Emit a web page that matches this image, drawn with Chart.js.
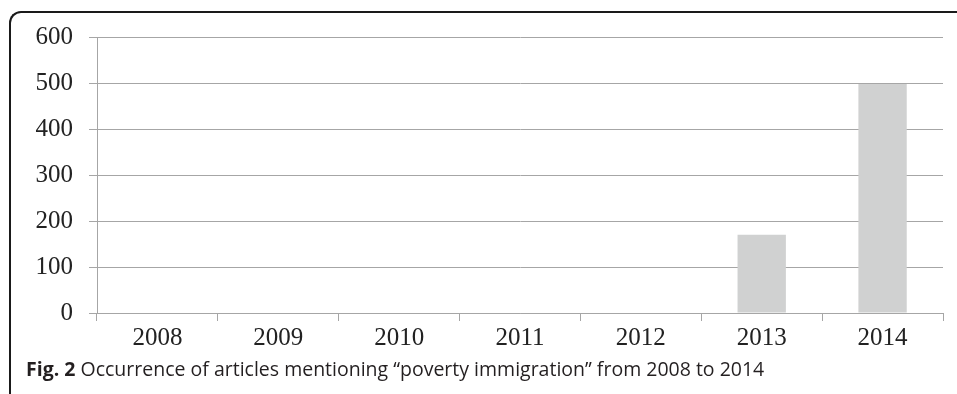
<!DOCTYPE html>
<html>
<head>
<meta charset="utf-8">
<script src="https://cdn.jsdelivr.net/npm/chart.js@4.4.1/dist/chart.umd.min.js"></script>
<style>
  body { margin: 0; background: #fff; }
  #wrap { position: relative; width: 957px; height: 394px; overflow: hidden; }
  #frame {
    position: absolute; left: 9px; top: 11px; width: 1000px; height: 500px;
    border-top: 2px solid #1a1a1a; border-left: 2px solid #1a1a1a;
    border-top-left-radius: 12px;
  }
  #myChart { position: absolute; left: 0; top: 0; }
  #caption {
    position: absolute; left: 26px; top: 355px;
    font-family: "Open Sans", sans-serif; font-size: 19.5px; color: #231f20;
    white-space: nowrap;
  }
  #caption b { font-weight: 700; }
</style>
</head>
<body>
<div id="wrap">
  <div id="frame"></div>
  <canvas id="myChart" width="957" height="394"></canvas>
  <div id="caption"><b>Fig. 2</b> Occurrence of articles mentioning “poverty immigration” from 2008 to 2014</div>
</div>
<script>
// data
const years = ['2008', '2009', '2010', '2011', '2012', '2013', '2014'];
const articles = [0, 0, 0, 0, 0, 170, 498];

const ctx = document.getElementById('myChart');

new Chart(ctx, {
    type: 'bar',
    data: {
        labels: years,
        datasets: [{
            label: 'articles',
            data: articles,
            backgroundColor: '#d0d1d1',
            borderWidth: 0,
            categoryPercentage: 1,
            barPercentage: 0.4
        }]
    },
    options: {
        responsive: false,
        animation: false,
        layout: {
            padding: { left: 0, right: 14, top: 37, bottom: 0 }
        },
        plugins: {
            legend: { display: false },
            tooltip: { enabled: false }
        },
        scales: {
            x: {
                grid: {
                    drawOnChartArea: false,
                    drawTicks: true,
                    tickLength: 8,
                    color: '#a6a6a6'
                },
                border: { color: '#a6a6a6', width: 1 },
                ticks: {
                    color: '#222',
                    padding: 2,
                    font: { family: '"Liberation Serif", serif', size: 25 }
                },
                afterFit: function (scale) { scale.height = 81; }
            },
            y: {
                min: 0,
                max: 600,
                ticks: {
                    stepSize: 100,
                    color: '#222',
                    padding: 16,
                    font: { family: '"Liberation Serif", serif', size: 25 }
                },
                grid: {
                    color: '#a6a6a6',
                    tickLength: 8
                },
                border: { color: '#a6a6a6', width: 1 },
                afterFit: function (scale) { scale.width = 97; }
            }
        }
    }
});
</script>
</body>
</html>
